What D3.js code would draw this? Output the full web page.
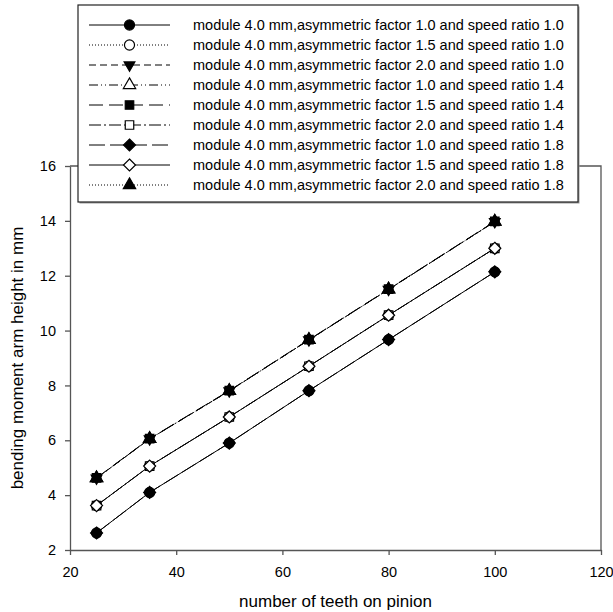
<!DOCTYPE html>
<html>
<head>
<meta charset="utf-8">
<script src="https://cdn.jsdelivr.net/npm/d3@7"></script>
<style>
  html, body { margin: 0; padding: 0; background: #fff; }
  svg { display: block; font-family: Arial, "Liberation Sans", sans-serif; }
</style>
</head>
<body>
<svg id="chart" width="613" height="612"></svg>
<script>
// teeth on pinion
const teeth = [25, 35, 50, 65, 80, 100]

// series labels (legend order)
const labels = [
  'module 4.0 mm,asymmetric factor 1.0 and speed ratio 1.0',
  'module 4.0 mm,asymmetric factor 1.5 and speed ratio 1.0',
  'module 4.0 mm,asymmetric factor 2.0 and speed ratio 1.0',
  'module 4.0 mm,asymmetric factor 1.0 and speed ratio 1.4',
  'module 4.0 mm,asymmetric factor 1.5 and speed ratio 1.4',
  'module 4.0 mm,asymmetric factor 2.0 and speed ratio 1.4',
  'module 4.0 mm,asymmetric factor 1.0 and speed ratio 1.8',
  'module 4.0 mm,asymmetric factor 1.5 and speed ratio 1.8',
  'module 4.0 mm,asymmetric factor 2.0 and speed ratio 1.8'
]

// bending moment arm height (mm), one array per series
const s1 = [2.62, 4.10, 5.90, 7.81, 9.67, 12.14]
const s2 = [3.62, 5.06, 6.85, 8.70, 10.56, 13.00]
const s3 = [4.62, 6.05, 7.80, 9.66, 11.50, 13.97]
const s4 = [4.62, 6.05, 7.80, 9.66, 11.50, 13.97]
const s5 = [4.63, 6.06, 7.81, 9.67, 11.51, 13.98]
const s6 = [3.62, 5.06, 6.85, 8.70, 10.56, 13.00]
const s7 = [2.62, 4.10, 5.90, 7.81, 9.67, 12.14]
const s8 = [3.62, 5.06, 6.85, 8.70, 10.56, 13.00]
const s9 = [4.62, 6.05, 7.80, 9.66, 11.50, 13.97]
const seriesValues = [s1, s2, s3, s4, s5, s6, s7, s8, s9]

const xTicks = [20, 40, 60, 80, 100, 120]
const yTicks = [2, 4, 6, 8, 10, 12, 14, 16]

// marker + line style for each series
const styles = [
  {symbol: 'circle', filled: true, dash: null},
  {symbol: 'circle', filled: false, dash: '1,2'},
  {symbol: 'triangleDown', filled: true, dash: '7,4'},
  {symbol: 'triangle', filled: false, dash: '9,3,1,3,1,3'},
  {symbol: 'square', filled: true, dash: '14,6'},
  {symbol: 'square', filled: false, dash: '12,3,2,3'},
  {symbol: 'diamond', filled: true, dash: '16,5'},
  {symbol: 'diamond', filled: false, dash: null},
  {symbol: 'triangle', filled: true, dash: '1,2'}
]

const svg = d3.select('#chart')
const margin = {left: 70, right: 12, top: 166, bottom: 62}
const W = 613, H = 612

const x = d3.scaleLinear().domain([20, 120]).range([margin.left, W - margin.right])
const y = d3.scaleLinear().domain([2, 16]).range([H - margin.bottom, margin.top])

const axisColor = '#555'

// square diamond (d3's own diamond is too tall)
const squareDiamond = {
  draw (ctx, size) {
    const r = Math.sqrt(size / 2)
    ctx.moveTo(0, -r)
    ctx.lineTo(r, 0)
    ctx.lineTo(0, r)
    ctx.lineTo(-r, 0)
    ctx.closePath()
  }
}

function symbolPath (name) {
  const types = {
    circle: [d3.symbolCircle, 80],
    triangle: [d3.symbolTriangle, 66],
    triangleDown: [d3.symbolTriangle, 50],
    square: [d3.symbolSquare, 72],
    diamond: [squareDiamond, 72]
  }
  const t = types[name]
  return d3.symbol().type(t[0]).size(t[1])()
}

function drawMarker (g, st, cx, cy) {
  g.append('path')
    .attr('d', symbolPath(st.symbol))
    .attr('transform', `translate(${cx},${cy})` + (st.symbol === 'triangleDown' ? ' rotate(180)' : ''))
    .attr('fill', st.filled ? '#000' : '#fff')
    .attr('stroke', '#000')
    .attr('stroke-width', 1.2)
}

// frame (top + right)
svg.append('path')
  .attr('d', `M${x(20)},${y(16)}H${x(120)}V${y(2)}`)
  .attr('fill', 'none')
  .attr('stroke', axisColor)
  .attr('stroke-width', 1.3)

// axes
const xAxis = svg.append('g')
  .attr('transform', `translate(0,${y(2)})`)
  .call(d3.axisBottom(x).tickValues(xTicks).tickSize(5).tickPadding(12).tickSizeOuter(0))
const yAxis = svg.append('g')
  .attr('transform', `translate(${x(20)},0)`)
  .call(d3.axisLeft(y).tickValues(yTicks).tickSize(5).tickPadding(9).tickSizeOuter(0))

;[xAxis, yAxis].forEach((a) => {
  a.select('.domain').attr('stroke', axisColor).attr('stroke-width', 1.3)
  a.selectAll('.tick line').attr('stroke', axisColor).attr('stroke-width', 1.3)
  a.selectAll('.tick text')
    .attr('fill', '#000')
    .style('font-size', '14.5px')
    .style('font-family', 'Arial, "Liberation Sans", sans-serif')
})

// axis titles
svg.append('text')
  .attr('x', (x(20) + x(120)) / 2)
  .attr('y', 607)
  .attr('text-anchor', 'middle')
  .style('font-size', '17px')
  .text('number of teeth on pinion')

svg.append('text')
  .attr('transform', `translate(23,${(y(2) + y(16)) / 2}) rotate(-90)`)
  .attr('text-anchor', 'middle')
  .style('font-size', '17px')
  .text('bending moment arm height in mm')

// data lines + markers
const line = d3.line()
  .x((d) => x(d[0]))
  .y((d) => y(d[1]))

seriesValues.forEach((vals, i) => {
  const st = styles[i]
  const pts = teeth.map((t, j) => [t, vals[j]])
  const g = svg.append('g').classed('series', true)
  g.append('path')
    .datum(pts)
    .attr('d', line)
    .attr('fill', 'none')
    .attr('stroke', '#000')
    .attr('stroke-width', 1)
    .attr('stroke-dasharray', st.dash)
  pts.forEach((p) => drawMarker(g, st, x(p[0]), y(p[1])))
})

// legend
const legend = svg.append('g').classed('legend', true)
const lx0 = 78, lx1 = 578, ly0 = 5, ly1 = 202
legend.append('rect')
  .attr('x', lx0 + 1.5)
  .attr('y', ly0 + 1.5)
  .attr('width', lx1 - lx0)
  .attr('height', ly1 - ly0)
  .attr('fill', '#999')
legend.append('rect')
  .attr('x', lx0)
  .attr('y', ly0)
  .attr('width', lx1 - lx0)
  .attr('height', ly1 - ly0)
  .attr('fill', '#fff')
  .attr('stroke', '#222')
  .attr('stroke-width', 1.2)

labels.forEach((label, i) => {
  const st = styles[i]
  const cy = 25 + i * 20
  legend.append('line')
    .attr('x1', 89).attr('x2', 170)
    .attr('y1', cy).attr('y2', cy)
    .attr('stroke', '#000')
    .attr('stroke-width', 1)
    .attr('stroke-dasharray', st.dash)
  drawMarker(legend, st, 129.5, cy)
  legend.append('text')
    .attr('x', 193)
    .attr('y', cy)
    .attr('dy', '0.36em')
    .style('font-size', '14.5px')
    .text(label)
})
</script>
</body>
</html>
